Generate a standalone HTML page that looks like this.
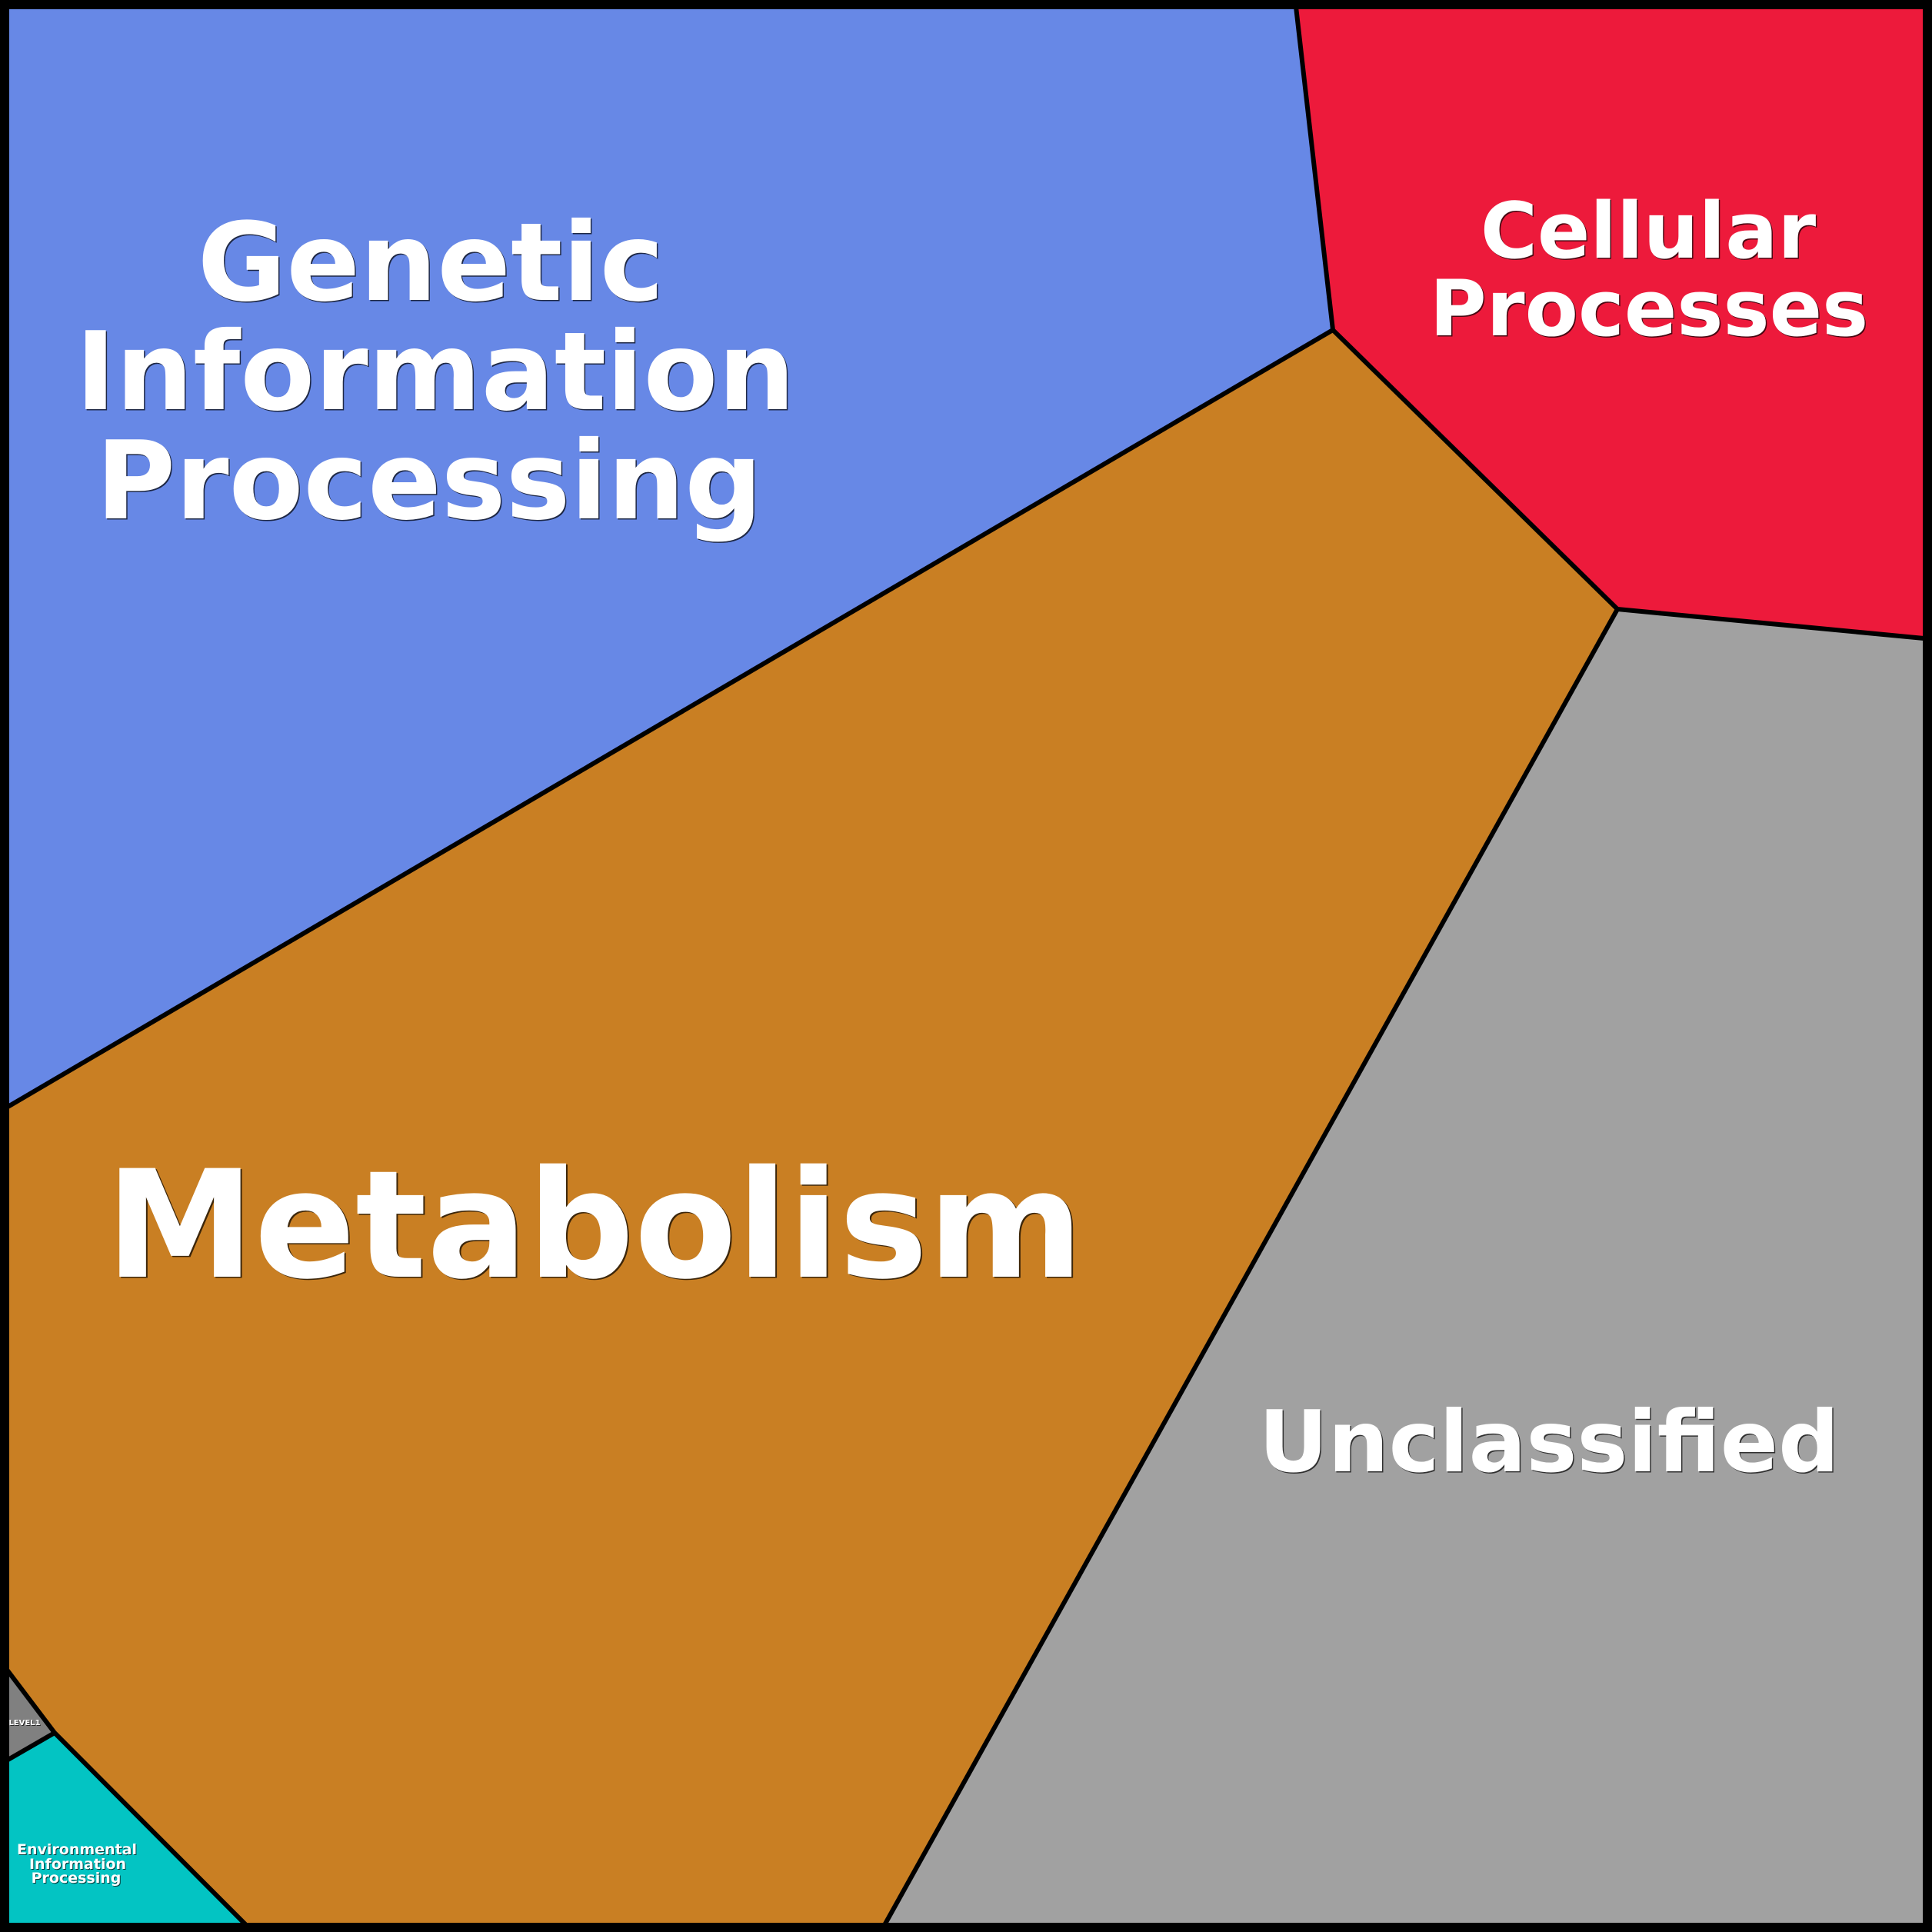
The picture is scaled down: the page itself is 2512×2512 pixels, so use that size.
<!DOCTYPE html>
<html>
<head>
<meta charset="utf-8">
<style>
  html, body { margin: 0; padding: 0; background: #ffffff; }
  svg { display: block; }
  text { font-family: "DejaVu Sans", "Liberation Sans", sans-serif; font-weight: bold; text-anchor: middle; }
  .sh { fill: #000000; fill-opacity: 0.7; }
  .fg { fill: #ffffff; }
</style>
</head>
<body>
<svg width="2512" height="2512" viewBox="0 0 2512 2512" xmlns="http://www.w3.org/2000/svg">
  <!-- Regions -->
  <polygon points="0,0 1684,0 1733,429 0,1445" fill="#6788E6"/>
  <polygon points="1684,0 2512,0 2512,831 2103,792 1733,429" fill="#ED1A3B"/>
  <polygon points="0,1445 1733,429 2103,792 1145,2512 329,2512 71,2253 0,2159" fill="#C97F23"/>
  <polygon points="2103,792 2512,831 2512,2512 1145,2512" fill="#A1A1A1"/>
  <polygon points="0,2159 71,2253 0,2294" fill="#808080"/>
  <polygon points="0,2294 71,2253 329,2512 0,2512" fill="#03C4C3"/>

  <!-- Boundary lines -->
  <g stroke="#000" stroke-width="6" fill="none" stroke-linejoin="miter">
    <polyline points="1684,0 1733,429 2103,792 2512,831"/>
    <line x1="0" y1="1445" x2="1733" y2="429"/>
    <line x1="2103" y1="792" x2="1145" y2="2512"/>
    <polyline points="0,2159 71,2253 329,2512"/>
    <line x1="71" y1="2253" x2="0" y2="2294"/>
  </g>

  <!-- Outer frame -->
  <rect x="6" y="6" width="2500" height="2500" fill="none" stroke="#000" stroke-width="12"/>

  <!-- Genetic Information Processing -->
  <g font-size="141">
    <text class="sh" x="561.5" y="391.5">Genetic</text>
    <text class="fg" x="560" y="390">Genetic</text>
    <text class="sh" x="567.5" y="533.5">Information</text>
    <text class="fg" x="566" y="532">Information</text>
    <text class="sh" x="559.5" y="675.5">Processing</text>
    <text class="fg" x="558" y="674">Processing</text>
  </g>

  <!-- Cellular Processes -->
  <g font-size="101">
    <text class="sh" x="2144.5" y="336.5">Cellular</text>
    <text class="fg" x="2143" y="335">Cellular</text>
    <text class="sh" x="2145.5" y="437.5">Processes</text>
    <text class="fg" x="2144" y="436">Processes</text>
  </g>

  <!-- Metabolism -->
  <g font-size="194">
    <text class="sh" x="775" y="1661.5">Metabolism</text>
    <text class="fg" x="773" y="1660">Metabolism</text>
  </g>

  <!-- Unclassified -->
  <g font-size="111">
    <text class="sh" x="2015.5" y="1914.5">Unclassified</text>
    <text class="fg" x="2014" y="1913">Unclassified</text>
  </g>

  <!-- LEVEL1 -->
  <g font-size="10">
    <text class="sh" x="33" y="2244">LEVEL1</text>
    <text class="fg" x="32" y="2243">LEVEL1</text>
  </g>

  <!-- Environmental Information Processing -->
  <g font-size="19">
    <text class="sh" x="101" y="2412">Environmental</text>
    <text class="fg" x="100" y="2411">Environmental</text>
    <text class="sh" x="102" y="2431">Information</text>
    <text class="fg" x="101" y="2430">Information</text>
    <text class="sh" x="100" y="2449">Processing</text>
    <text class="fg" x="99" y="2448">Processing</text>
  </g>
</svg>
</body>
</html>
